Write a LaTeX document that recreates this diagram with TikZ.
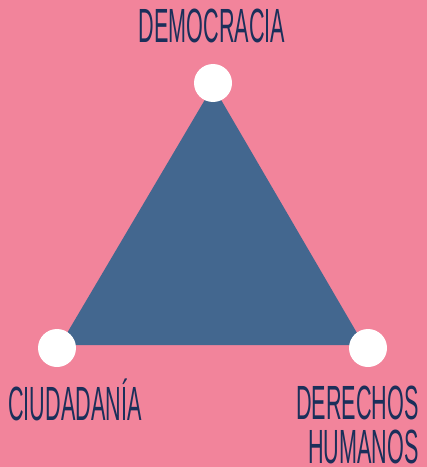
\documentclass[tikz,border=0pt]{standalone}
\usepackage{fontspec}
\setmainfont[FakeStretch=0.45]{Liberation Sans}
\usetikzlibrary{positioning}
\definecolor{fondo}{HTML}{F2849B}
\definecolor{azul}{HTML}{43678F}
\definecolor{tinta}{HTML}{1B2F5A}

\tikzset{
    vertice/.style={circle, fill=white, inner sep=0pt, minimum size=28.5pt},
    etiqueta/.style={text=tinta, font=\fontsize{36}{33}\selectfont, inner sep=0pt}
}

\begin{document}
\begin{tikzpicture}[x=0.75pt, y=-0.75pt]
    \fill[fondo] (0,0) rectangle (427,467);
    \useasboundingbox (0,0) rectangle (427,467);

    % triangulo
    \coordinate (t1) at (213,86);
    \coordinate (t2) at (60,345);
    \coordinate (t3) at (364,345);
    \fill[azul] (t1) -- (t2) -- (t3) -- cycle;

    % vertices
    \node[vertice] (dem) at (213,83) {};
    \node[vertice] (ciu) at (57,348) {};
    \node[vertice] (der) at (368,348) {};

    % textos
    \node[etiqueta, anchor=base] (tdem) at (212,43) {DEMOCRACIA};
    \node[etiqueta, anchor=base west] (tciu) at (8,420) {CIUDADANÍA};
    \node[etiqueta, anchor=base east, align=right] (tder) at (419,463) {DERECHOS\\HUMANOS};
\end{tikzpicture}
\end{document}
